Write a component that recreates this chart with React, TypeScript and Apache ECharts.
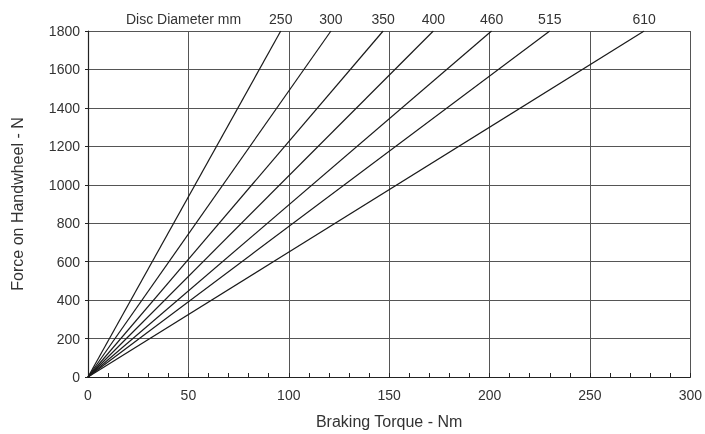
import React, { useEffect, useRef } from "react";
import * as echarts from "echarts";

const diameters = ["250", "300", "350", "400", "460", "515", "610"];
// torque (Nm) reached at 1800 N handwheel force, for each disc diameter
const torqueAt1800 = [96, 121, 147, 172, 201, 230, 277];
const forceMax = 1800;
const xTicks = [0, 50, 100, 150, 200, 250, 300];
const yTicks = [0, 200, 400, 600, 800, 1000, 1200, 1400, 1600, 1800];

const FONT = "Liberation Sans";
const TXT = "#333";

export default function App() {
  const ref = useRef<HTMLDivElement>(null);
  useEffect(() => {
    if (!ref.current) return;
    const chart = echarts.init(ref.current, null, { renderer: "svg" });
    const series = diameters.map((d, i) => ({
      name: d,
      type: "line",
      symbol: "circle",
      symbolSize: 1,
      showSymbol: true,
      itemStyle: { color: "rgba(0,0,0,0)" },
      lineStyle: { color: "#1a1a1a", width: 1.2 },
      emphasis: { disabled: true },
      data: [
        { value: [0, 0], label: { show: false } },
        {
          value: [torqueAt1800[i], forceMax],
          label: {
            show: true,
            position: "top",
            distance: 5,
            formatter: d,
            color: TXT,
            fontFamily: FONT,
            fontSize: 14,
          },
        },
      ],
    }));
    chart.setOption({
      animation: false,
      grid: { left: 88, right: 12, top: 31, bottom: 57, containLabel: false },
      graphic: [
        {
          type: "text",
          left: 126,
          top: 12,
          style: { text: "Disc Diameter mm", fill: TXT, font: `14px "${FONT}"` },
        },
      ],
      xAxis: {
        type: "value",
        min: xTicks[0],
        max: xTicks[xTicks.length - 1],
        interval: 50,
        name: "Braking Torque - Nm",
        nameLocation: "middle",
        nameGap: 36,
        nameTextStyle: { color: TXT, fontFamily: FONT, fontSize: 16 },
        axisLine: { show: true, lineStyle: { color: "#222", width: 1.2 } },
        axisTick: { show: true, inside: true, length: 4, lineStyle: { color: "#222" } },
        minorTick: { show: true, splitNumber: 5, length: 4, lineStyle: { color: "#222" } },
        axisLabel: { color: TXT, fontFamily: FONT, fontSize: 14, margin: 11 },
        splitLine: { show: true, lineStyle: { color: "#555", width: 1 } },
      },
      yAxis: {
        type: "value",
        min: yTicks[0],
        max: yTicks[yTicks.length - 1],
        interval: 200,
        name: "Force on Handwheel - N",
        nameLocation: "middle",
        nameGap: 63,
        nameRotate: 90,
        nameTextStyle: { color: TXT, fontFamily: FONT, fontSize: 16 },
        axisLine: { show: true, lineStyle: { color: "#222", width: 1.2 } },
        axisTick: { show: true, length: 3, lineStyle: { color: "#222" } },
        axisLabel: {
          color: TXT,
          fontFamily: FONT,
          fontSize: 14,
          margin: 8,
          formatter: (v: number) => String(v),
        },
        splitLine: { show: true, lineStyle: { color: "#555", width: 1 } },
      },
      series,
    });
    return () => chart.dispose();
  }, []);
  return (
    <div
      ref={ref}
      style={{ position: "fixed", left: 0, top: 0, width: 705, height: 434 }}
    />
  );
}
